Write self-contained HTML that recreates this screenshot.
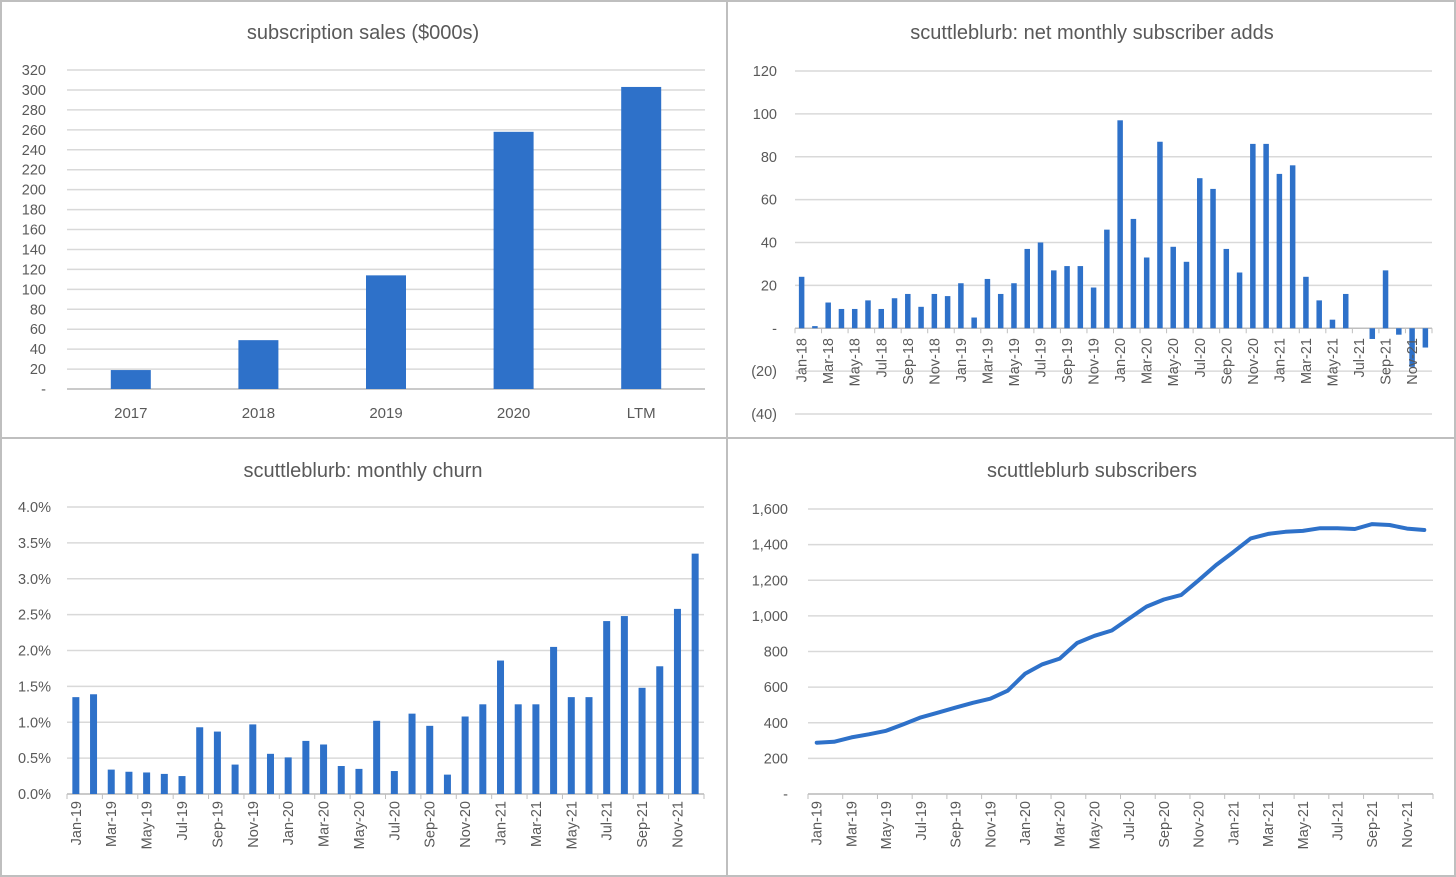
<!DOCTYPE html>
<html><head><meta charset="utf-8"><style>
html,body{margin:0;padding:0;background:#fff;}
svg{display:block;font-family:"Liberation Sans",sans-serif;}
</style></head><body>
<svg id="root" width="1456" height="877" viewBox="0 0 1456 877">
<rect x="0" y="0" width="1456" height="877" fill="#fff"/>
<g id="frame" stroke="#bfbfbf" stroke-width="2" fill="none">
<rect x="1" y="1" width="1454" height="875"/>
<line x1="727" y1="0" x2="727" y2="877"/>
<line x1="0" y1="438" x2="1456" y2="438"/>
</g>
<g id="tl"></g>
<g id="tr"></g>
<g id="bl"></g>
<g id="br"></g>
</svg>
<script>
const salesCats = ["2017","2018","2019","2020","LTM"];
const salesVals = [19,49,114,258,303];
const salesTicks = ["-","20","40","60","80","100","120","140","160","180","200","220","240","260","280","300","320"];

const addsCats = ["Jan-18","Feb-18","Mar-18","Apr-18","May-18","Jun-18","Jul-18","Aug-18","Sep-18","Oct-18","Nov-18","Dec-18","Jan-19","Feb-19","Mar-19","Apr-19","May-19","Jun-19","Jul-19","Aug-19","Sep-19","Oct-19","Nov-19","Dec-19","Jan-20","Feb-20","Mar-20","Apr-20","May-20","Jun-20","Jul-20","Aug-20","Sep-20","Oct-20","Nov-20","Dec-20","Jan-21","Feb-21","Mar-21","Apr-21","May-21","Jun-21","Jul-21","Aug-21","Sep-21","Oct-21","Nov-21","Dec-21"];
const addsVals = [24,1,12,9,9,13,9,14,16,10,16,15,21,5,23,16,21,37,40,27,29,29,19,46,97,51,33,87,38,31,70,65,37,26,86,86,72,76,24,13,4,16,0,-5,27,-3,-18,-9];
const addsTicks = ["(40)","(20)","-","20","40","60","80","100","120"];

const months36 = ["Jan-19","Feb-19","Mar-19","Apr-19","May-19","Jun-19","Jul-19","Aug-19","Sep-19","Oct-19","Nov-19","Dec-19","Jan-20","Feb-20","Mar-20","Apr-20","May-20","Jun-20","Jul-20","Aug-20","Sep-20","Oct-20","Nov-20","Dec-20","Jan-21","Feb-21","Mar-21","Apr-21","May-21","Jun-21","Jul-21","Aug-21","Sep-21","Oct-21","Nov-21","Dec-21"];
const churnVals = [1.35,1.39,0.34,0.31,0.30,0.28,0.25,0.93,0.87,0.41,0.97,0.56,0.51,0.74,0.69,0.39,0.35,1.02,0.32,1.12,0.95,0.27,1.08,1.25,1.86,1.25,1.25,2.05,1.35,1.35,2.41,2.48,1.48,1.78,2.58,3.35];
const churnTicks = ["0.0%","0.5%","1.0%","1.5%","2.0%","2.5%","3.0%","3.5%","4.0%"];

const subsVals = [288,293,318,335,355,392,430,457,485,512,535,580,675,728,760,848,888,918,985,1052,1092,1118,1200,1285,1358,1435,1460,1472,1477,1492,1492,1488,1515,1510,1490,1482];
const subsTicks = ["-","200","400","600","800","1,000","1,200","1,400","1,600"];

const NS="http://www.w3.org/2000/svg";
const BLUE="#2e71c9", GRID="#d9d9d9", TXT="#595959";
function mk(tag, attrs, parent){const e=document.createElementNS(NS,tag);for(const k in attrs)e.setAttribute(k,attrs[k]);parent.appendChild(e);return e;}

function chart(o){
  const g=document.getElementById(o.id);
  const t=mk('text',{x:o.tx,y:o.ty,'text-anchor':'middle','font-size':20,fill:TXT},g);
  t.textContent=o.title;
  
  
  const y=v=>o.y0+(v-o.vmin)/(o.vmax-o.vmin)*(o.y1-o.y0);
  const n=o.cats.length, w=(o.x1-o.x0)/n;
  const cx=i=>o.x0+w*(i+0.5);
  o.ticks.forEach((lab,i)=>{
    const v=o.vmin+i*o.step, yy=y(v);
    const ln=mk('line',{x1:o.x0,x2:o.x1,y1:yy,y2:yy,stroke:GRID,'stroke-width':1.5},g);
    
    
    const tx=mk('text',{x:o.x0-o.lblPad,y:yy+5,'text-anchor':'end','font-size':14.5,fill:TXT},g);
    tx.textContent=lab;
    
    
  });
  const zy=y(0);
  const ax=mk('line',{x1:o.x0,x2:o.x1,y1:zy,y2:zy,stroke:'#bfbfbf','stroke-width':1.5},g);
  
  
  if(o.rot){
    for(let i=0;i<=n;i+=2){
      const xx=o.x0+w*i;
      const tk=mk('line',{x1:xx,x2:xx,y1:zy,y2:zy+5,stroke:'#bfbfbf','stroke-width':1},g);
      
      
    }
  }
  if(o.type==='bar'){
    o.vals.forEach((v,i)=>{
      const a=y(v), top=Math.min(a,zy), h=Math.abs(a-zy);
      const r=mk('rect',{x:cx(i)-o.bw/2,y:top,width:o.bw,height:Math.max(h,0.01),fill:BLUE},g);
      
      
    });
  } else {
    const pts=o.vals.map((v,i)=>cx(i).toFixed(1)+','+y(v).toFixed(1)).join(' ');
    const pl=mk('polyline',{points:pts,fill:'none',stroke:BLUE,'stroke-width':4,'stroke-linejoin':'round','stroke-linecap':'round'},g);
    
    
  }
  o.cats.forEach((c,i)=>{
    if(o.rot && i%2) return;
    let tx;
    if(o.rot){
      const xx=cx(i)+5, yy=o.labY;
      tx=mk('text',{x:xx,y:yy,'text-anchor':'end','font-size':14.5,fill:TXT,transform:`rotate(-90 ${xx} ${yy})`},g);
    } else {
      tx=mk('text',{x:cx(i),y:o.labY,'text-anchor':'middle','font-size':15,fill:TXT},g);
    }
    tx.textContent=c;
    
    
  });
}

chart({id:'tl',title:'subscription sales ($000s)',tx:363,ty:39,cats:salesCats,vals:salesVals,ticks:salesTicks,vmin:0,vmax:320,step:20,x0:67,x1:705,y0:389,y1:70,bw:40,type:'bar',rot:false,labY:418,lblPad:21});
chart({id:'tr',title:'scuttleblurb: net monthly subscriber adds',tx:1092,ty:39,cats:addsCats,vals:addsVals,ticks:addsTicks,vmin:-40,vmax:120,step:20,x0:795,x1:1432,y0:414,y1:71,bw:5.5,type:'bar',rot:true,labY:338,lblPad:18});
chart({id:'bl',title:'scuttleblurb: monthly churn',tx:363,ty:477,cats:months36,vals:churnVals,ticks:churnTicks,vmin:0,vmax:4,step:0.5,x0:67,x1:704,y0:794,y1:507,bw:7,type:'bar',rot:true,labY:801,lblPad:16});
chart({id:'br',title:'scuttleblurb subscribers',tx:1092,ty:477,cats:months36,vals:subsVals,ticks:subsTicks,vmin:0,vmax:1600,step:200,x0:808,x1:1433,y0:794,y1:509,bw:0,type:'line',rot:true,labY:801,lblPad:20});
</script>
</body></html>
